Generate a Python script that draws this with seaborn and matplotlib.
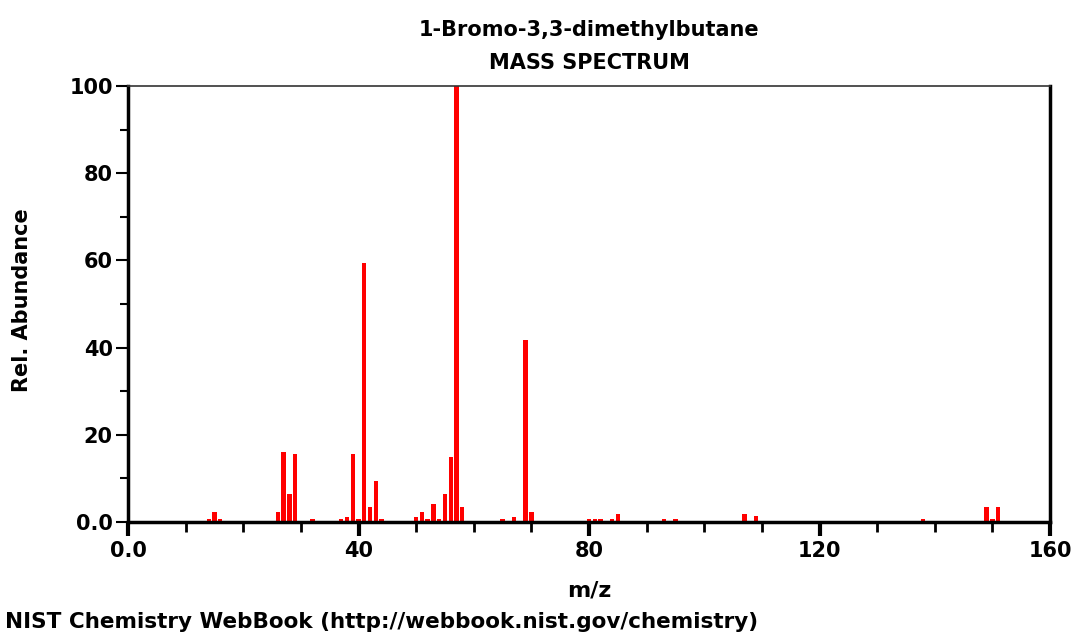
import matplotlib
matplotlib.use("Agg")
import matplotlib.pyplot as plt
import seaborn as sns
import pandas as pd
from matplotlib.ticker import MultipleLocator, FixedLocator

mz = [14, 15, 16, 26, 27, 28, 29, 32, 37, 38, 39, 40, 41, 42, 43, 44,
      50, 51, 52, 53, 54, 55, 56, 57, 58, 65, 67, 69, 70,
      80, 81, 82, 84, 85, 93, 95, 107, 109, 138, 149, 150, 151]
abundance = [0.8, 2.4, 0.7, 2.4, 16.1, 6.5, 15.6, 0.7, 0.8, 1.2, 15.6, 0.8, 59.5, 3.5, 9.3, 0.8,
             1.2, 2.4, 0.8, 4.1, 0.8, 6.4, 15.0, 100, 3.5, 0.8, 1.2, 41.8, 2.4,
             0.7, 0.7, 0.7, 0.7, 1.9, 0.7, 0.7, 1.9, 1.4, 0.8, 3.5, 0.8, 3.5]
title1 = "1-Bromo-3,3-dimethylbutane"
title2 = "MASS SPECTRUM"
xlabel = "m/z"
ylabel = "Rel. Abundance"
footer = "NIST Chemistry WebBook (http://webbook.nist.gov/chemistry)"
xticks = [0, 40, 80, 120, 160]
xtick_labels = ["0.0", "40", "80", "120", "160"]
yticks = [0, 20, 40, 60, 80, 100]
ytick_labels = ["0.0", "20", "40", "60", "80", "100"]

sns.set_style("white")
plt.rcParams['font.family'] = ['DejaVu Sans']
plt.rcParams['text.color'] = 'black'
plt.rcParams['axes.labelcolor'] = 'black'
plt.rcParams['xtick.color'] = 'black'
plt.rcParams['ytick.color'] = 'black'

df = pd.DataFrame({"mz": mz, "abundance": abundance})

fig = plt.figure(figsize=(10.79, 6.39), dpi=100)
ax = fig.add_axes([128 / 1079, 1 - 522 / 639, (1050 - 128) / 1079, (522 - 86) / 639])

sns.barplot(data=df, x="mz", y="abundance", native_scale=True, color="#ff0000",
            saturation=1, width=0.75, linewidth=0, ax=ax, errorbar=None)

ax.set_xlim(0, 160)
ax.set_ylim(0, 100)

ax.xaxis.set_major_locator(FixedLocator(xticks))
ax.set_xticklabels(xtick_labels)
ax.xaxis.set_minor_locator(MultipleLocator(10))
ax.yaxis.set_major_locator(FixedLocator(yticks))
ax.set_yticklabels(ytick_labels)
ax.yaxis.set_minor_locator(MultipleLocator(10))

for lab in ax.get_xticklabels() + ax.get_yticklabels():
    lab.set_fontsize(15)
    lab.set_fontweight("bold")
    lab.set_color("black")

ax.tick_params(axis="x", which="major", direction="out", length=10, width=3, pad=4, color="black", bottom=True)
ax.tick_params(axis="x", which="minor", direction="out", length=7, width=2, color="black", bottom=True)
ax.tick_params(axis="y", which="major", direction="out", length=9, width=1.5, pad=2, color="black", left=True)
ax.tick_params(axis="y", which="minor", direction="out", length=6, width=1.5, color="black", left=True)

for side in ["left", "bottom", "right"]:
    ax.spines[side].set_visible(True)
    ax.spines[side].set_color("black")
    ax.spines[side].set_linewidth(2.5)
ax.spines["top"].set_visible(True)
ax.spines["top"].set_color("#333333")
ax.spines["top"].set_linewidth(1.2)

ax.set_xlabel(xlabel, fontsize=16, fontweight="bold", color="black")
ax.set_ylabel(ylabel, fontsize=15, fontweight="bold", color="black")
ax.xaxis.set_label_coords(0.5, (522 - 590) / 436)
ax.yaxis.set_label_coords((22 - 128) / 922, (522 - 300) / 436)
ax.xaxis.label.set_va("center")
ax.yaxis.label.set_va("center")

fig.text(589 / 1079, 1 - 30 / 639, title1, ha="center", va="center", fontsize=15, fontweight="bold", color="black")
fig.text(589 / 1079, 1 - 63 / 639, title2, ha="center", va="center", fontsize=15, fontweight="bold", color="black")
fig.text(5 / 1079, 1 - 622 / 639, footer, ha="left", va="center", fontsize=15.5, fontweight="bold", color="black")

fig.savefig("out.png", dpi=100)
